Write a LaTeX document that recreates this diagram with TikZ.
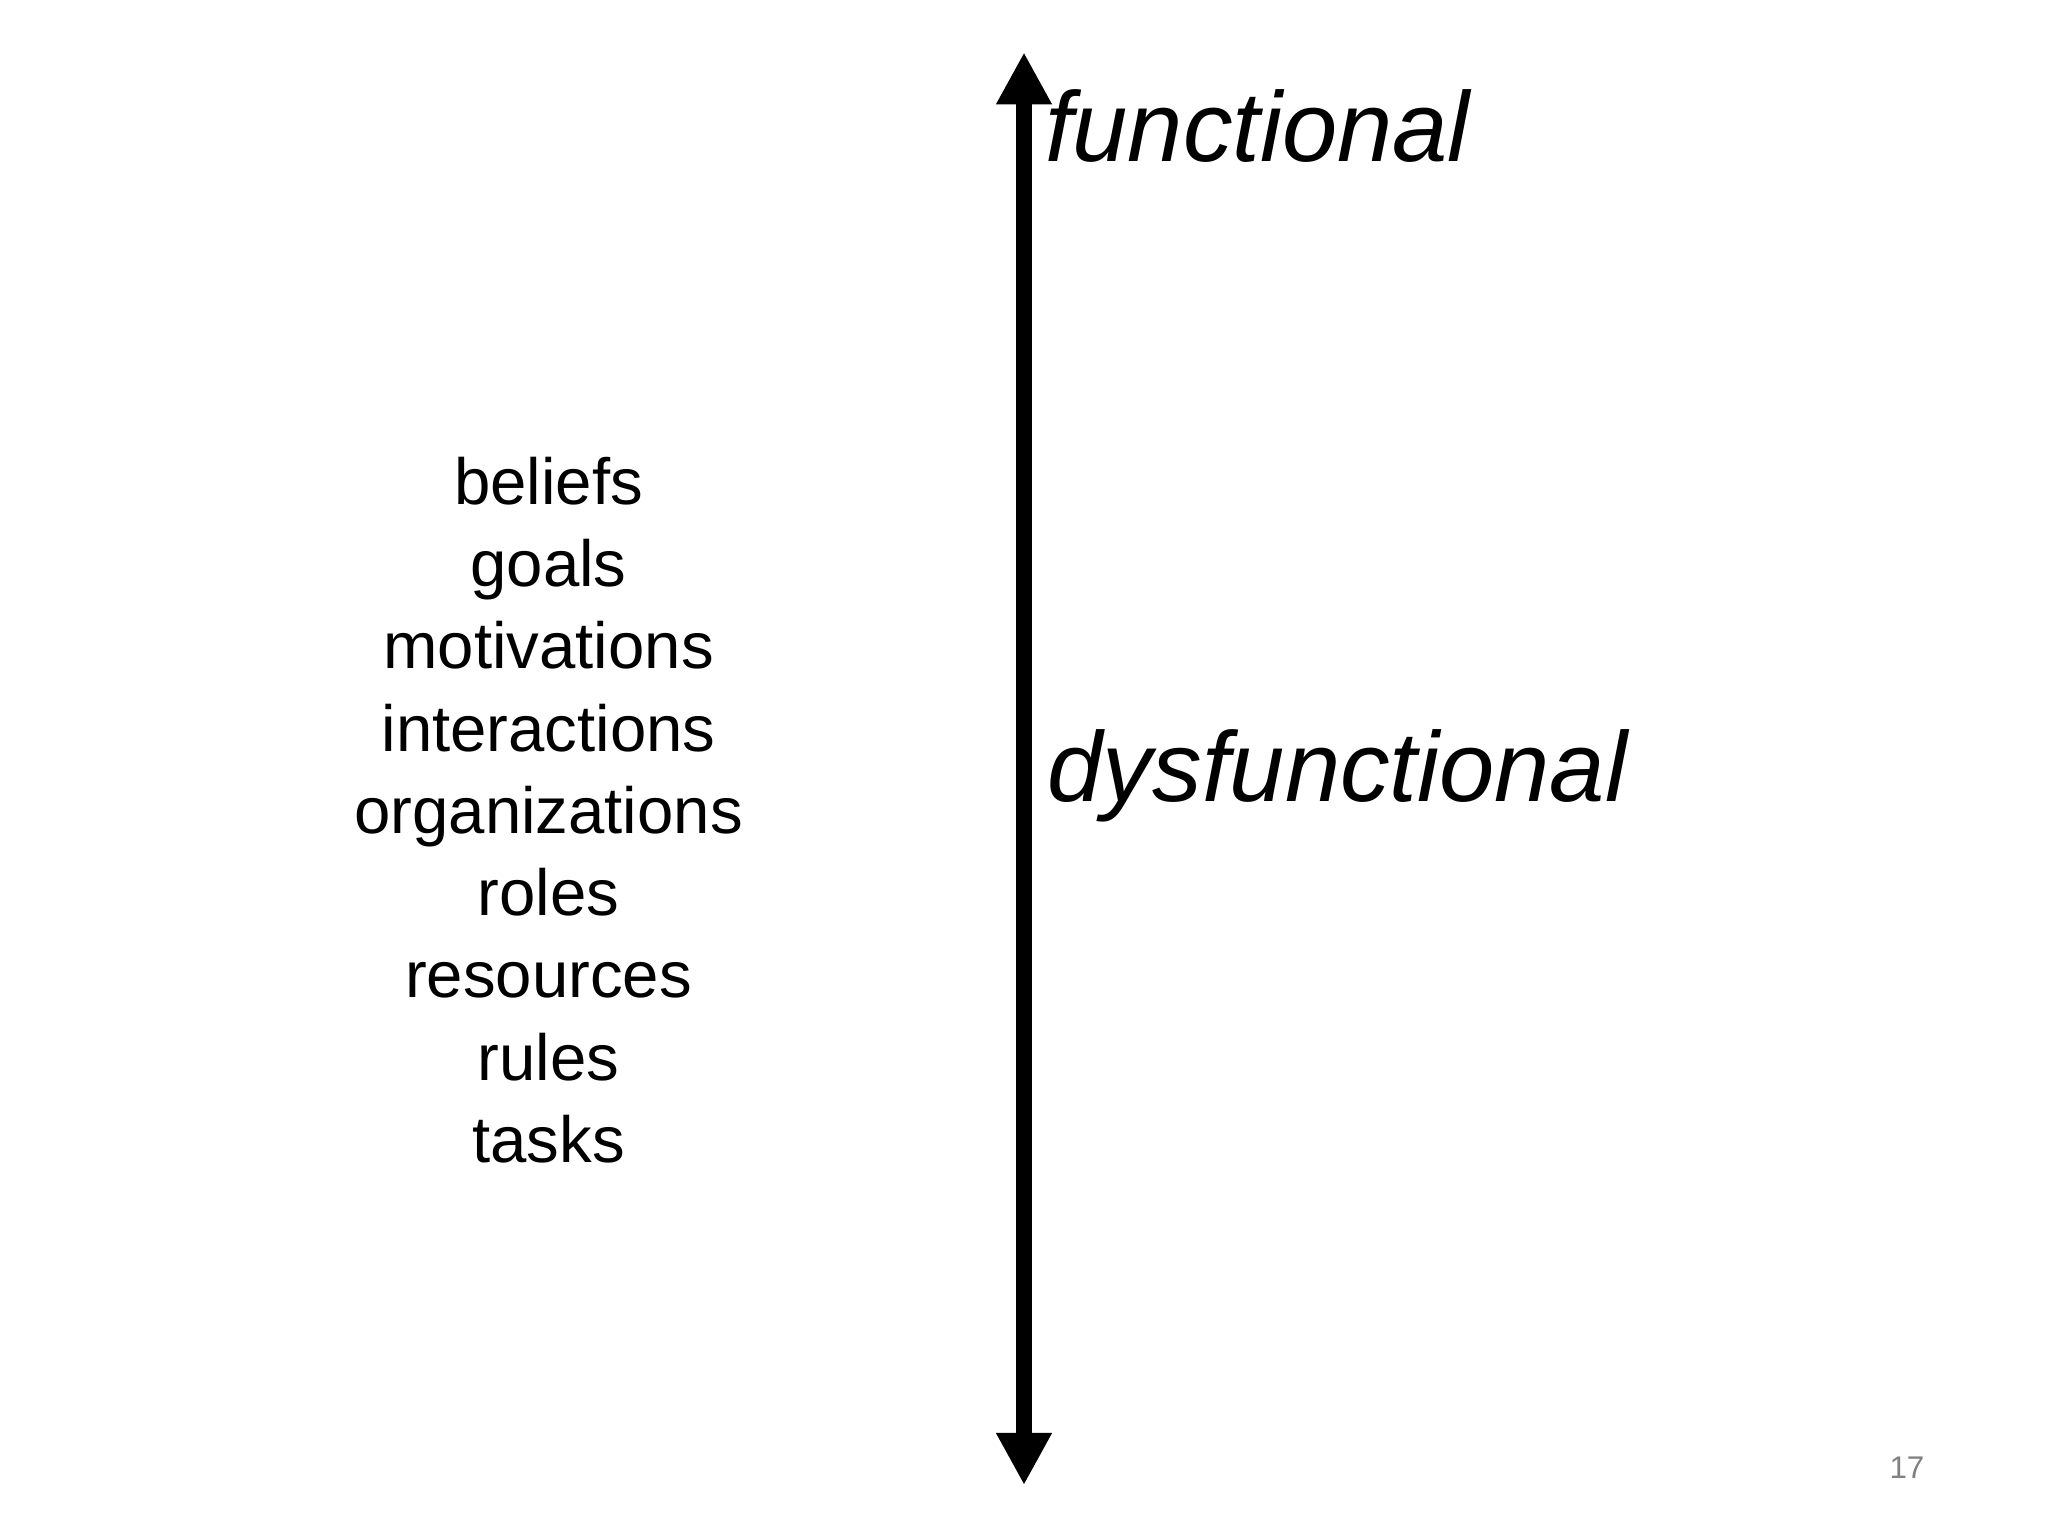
\documentclass[tikz,border=0pt]{standalone}
\usepackage{fontspec}
\setmainfont{Liberation Sans}
\usetikzlibrary{arrows.meta}
\begin{document}
\begin{tikzpicture}[x=1pt,y=-1pt,
  big/.style={font=\fontsize{76}{80}\selectfont\itshape, anchor=base west, inner sep=0},
  item/.style={font=\fontsize{50}{60}\selectfont, anchor=base, inner sep=0}]
\useasboundingbox (0,0) rectangle (1568,1176);
\coordinate (top) at (784,40);
\coordinate (bot) at (784,1137);
\draw[line width=12pt, -{Triangle[length=40pt,width=40pt]}, {Triangle[length=40pt,width=40pt]}-{Triangle[length=40pt,width=40pt]}] (bot) -- (top);
\node[big] (f) at (800,124) {functional};
\node[big] (d) at (802,614) {dysfunctional};
\foreach \t [count=\i] in {beliefs,goals,motivations,interactions,organizations,roles,resources,rules,tasks}
  \node[item] (i\i) at (420,386+63*\i-63) {\t};
\node[font=\fontsize{24}{28}\selectfont, text=gray, anchor=base, inner sep=0] (p) at (1460,1132) {17};
\end{tikzpicture}
\end{document}
